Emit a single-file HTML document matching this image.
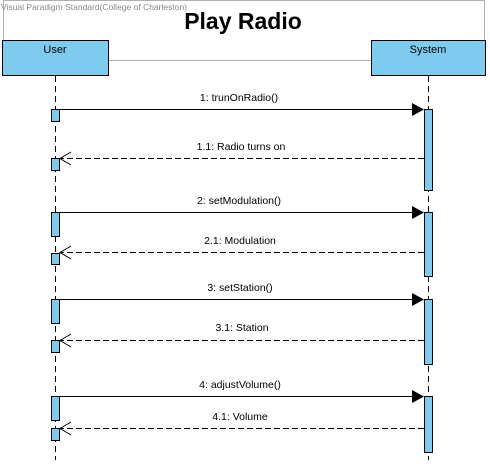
<!DOCTYPE html>
<html><head><meta charset="utf-8"><style>
html,body{margin:0;padding:0;background:#fff;}
svg{display:block;font-family:"Liberation Sans",Arial,sans-serif;}
</style></head><body>
<svg width="490" height="464" viewBox="0 0 490 464" xmlns="http://www.w3.org/2000/svg">
<rect x="3.5" y="0.5" width="481" height="60" fill="none" stroke="#b0b0b0" stroke-width="1"/>
<text x="1" y="10" font-size="8.5" fill="#8a8a8a">Visual Paradigm Standard(College of Charleston)</text>
<text x="243" y="29" font-size="23" font-weight="bold" text-anchor="middle" fill="#000">Play Radio</text>
<rect x="2.5" y="40.5" width="106" height="35" fill="#7ecbf0" stroke="#000"/>
<text x="55" y="53" font-size="11" text-anchor="middle">User</text>
<rect x="371.5" y="40.5" width="114" height="35" fill="#7ecbf0" stroke="#000"/>
<text x="428" y="53" font-size="11" text-anchor="middle">System</text>
<g stroke="#000" stroke-dasharray="6,4" stroke-width="1">
<line x1="55.5" y1="76" x2="55.5" y2="460"/>
<line x1="428.5" y1="76" x2="428.5" y2="460"/>
</g>
<g fill="#7ecbf0" stroke="#000">
<rect x="424.5" y="109.5" width="8" height="81"/>
<rect x="424.5" y="212.5" width="8" height="64"/>
<rect x="424.5" y="299.5" width="8" height="65"/>
<rect x="424.5" y="396.5" width="8" height="56"/>
<rect x="51.5" y="109.5" width="8" height="12"/>
<rect x="51.5" y="158.5" width="8" height="12"/>
<rect x="51.5" y="212.5" width="8" height="24"/>
<rect x="51.5" y="253.5" width="8" height="11"/>
<rect x="51.5" y="299.5" width="8" height="24"/>
<rect x="51.5" y="340.5" width="8" height="12"/>
<rect x="51.5" y="396.5" width="8" height="24"/>
<rect x="51.5" y="428.5" width="8" height="12"/>
</g>
<g stroke="#000" stroke-width="1">
<line x1="59" y1="109.5" x2="414" y2="109.5"/>
<line x1="59" y1="212.5" x2="414" y2="212.5"/>
<line x1="59" y1="299.5" x2="414" y2="299.5"/>
<line x1="59" y1="396.5" x2="414" y2="396.5"/>
</g>
<g fill="#000">
<polygon points="412,103 424,109.5 412,116"/>
<polygon points="412,206 424,212.5 412,219"/>
<polygon points="412,293 424,299.5 412,306"/>
<polygon points="412,390 424,396.5 412,403"/>
</g>
<g stroke="#000" stroke-width="1" fill="none">
<line x1="424" y1="158.5" x2="60" y2="158.5" stroke-dasharray="6,3"/>
<polyline points="71,152 60,158.5 71,165"/>
<line x1="424" y1="252.5" x2="60" y2="252.5" stroke-dasharray="6,3"/>
<polyline points="71,246 60,252.5 71,259"/>
<line x1="424" y1="340.5" x2="60" y2="340.5" stroke-dasharray="6,3"/>
<polyline points="71,334 60,340.5 71,347"/>
<line x1="424" y1="428.5" x2="60" y2="428.5" stroke-dasharray="6,3"/>
<polyline points="71,422 60,428.5 71,435"/>
</g>
<g font-size="10.5" text-anchor="middle" fill="#000">
<text x="239" y="101">1: trunOnRadio()</text>
<text x="241" y="150">1.1: Radio turns on</text>
<text x="239" y="204">2: setModulation()</text>
<text x="240" y="244">2.1: Modulation</text>
<text x="240" y="291">3: setStation()</text>
<text x="242" y="331">3.1: Station</text>
<text x="240" y="388">4: adjustVolume()</text>
<text x="240" y="420">4.1: Volume</text>
</g>
</svg>
</body></html>
